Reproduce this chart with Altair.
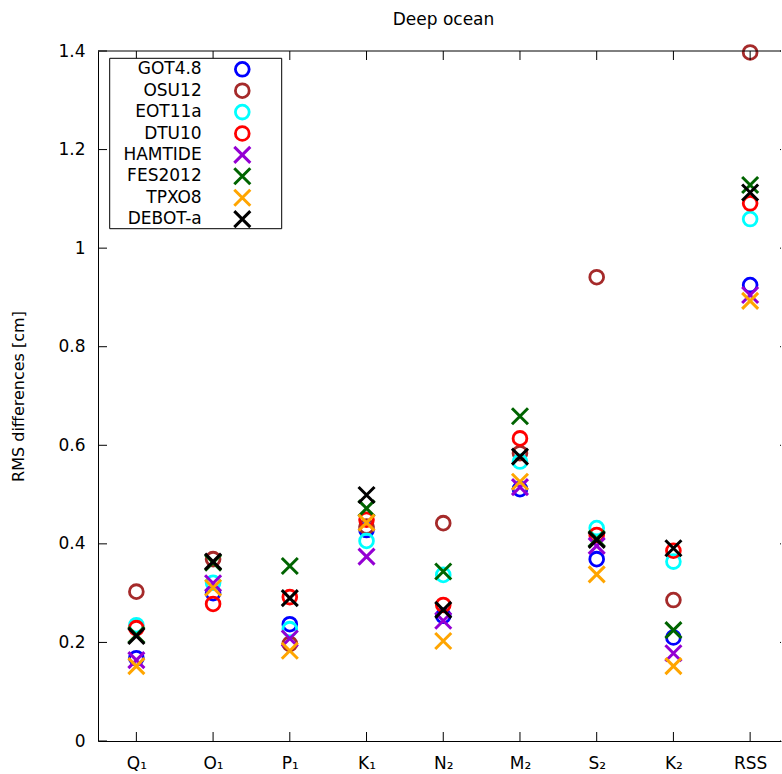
import altair as alt
import pandas as pd

# Tidal constituents along the x axis
tides = ["Q₁", "O₁", "P₁", "K₁", "N₂", "M₂", "S₂", "K₂", "RSS"]

# Ocean tide models and their plotting colours
models = ["GOT4.8", "OSU12", "EOT11a", "DTU10", "HAMTIDE", "FES2012", "TPXO8", "DEBOT-a"]
colors = ["#0000ff", "#a52a2a", "#00ffff", "#ff0000", "#9400d3", "#006400", "#ffa500", "#000000"]

# RMS differences [cm] per model, in the order of `tides`
got48 = [0.168, 0.300, 0.237, 0.428, 0.254, 0.511, 0.369, 0.210, 0.925]
osu12 = [0.303, 0.369, 0.197, 0.435, 0.442, 0.584, 0.941, 0.286, 1.397]
eot11a = [0.235, 0.321, 0.227, 0.406, 0.337, 0.567, 0.432, 0.364, 1.059]
dtu10 = [0.229, 0.278, 0.292, 0.449, 0.276, 0.614, 0.418, 0.386, 1.091]
hamtide = [0.164, 0.320, 0.208, 0.374, 0.244, 0.515, 0.396, 0.178, 0.905]
fes2012 = [0.215, 0.362, 0.355, 0.472, 0.344, 0.659, 0.410, 0.225, 1.128]
tpxo8 = [0.152, 0.311, 0.183, 0.443, 0.203, 0.526, 0.338, 0.152, 0.893]
debot_a = [0.213, 0.364, 0.290, 0.499, 0.266, 0.577, 0.408, 0.391, 1.113]

series = [got48, osu12, eot11a, dtu10, hamtide, fes2012, tpxo8, debot_a]
y_ticks = [0, 0.2, 0.4, 0.6, 0.8, 1.0, 1.2, 1.4]

rows = []
for m, vals in zip(models, series):
    for i, (t, v) in enumerate(zip(tides, vals)):
        rows.append({"model": m, "pos": i + 1, "tide": t, "rms": v})
df = pd.DataFrame(rows)

circle_models = models[:4]
cross_models = models[4:]

W, H = 683, 690
YMAX = 1.4
STEP = 690.5 / 9.0
XMAX = 0.5 + W / STEP
FONT = "DejaVu Sans"
XPATH = "M-1,-1L1,1M-1,1L1,-1"
CIRCLE_SIZE = 190
CROSS_SIZE = 256

xscale = alt.Scale(domain=[0.5, XMAX], nice=False, zero=False)
yscale = alt.Scale(domain=[0, YMAX], nice=False, zero=False)
cscale = alt.Scale(domain=models, range=colors)

label_expr = "[" + ",".join("'%s'" % t for t in tides) + "][datum.value - 1]"

x_axis = alt.Axis(values=list(range(1, 10)), labelExpr=label_expr, ticks=False,
                  grid=False, title=None, labelPadding=14)
y_axis = alt.Axis(values=y_ticks, format=".1~f", ticks=False, grid=False, labelPadding=13,
                  title="RMS differences [cm]", titlePadding=31)

base = alt.Chart(df)
circles = base.transform_filter(
    alt.FieldOneOfPredicate(field="model", oneOf=circle_models)
).mark_point(shape="circle", filled=False, size=CIRCLE_SIZE, strokeWidth=2.8, opacity=1).encode(
    x=alt.X("pos:Q", scale=xscale, axis=x_axis),
    y=alt.Y("rms:Q", scale=yscale, axis=y_axis),
    color=alt.Color("model:N", scale=cscale, legend=None),
)
crosses = base.transform_filter(
    alt.FieldOneOfPredicate(field="model", oneOf=cross_models)
).mark_point(shape=XPATH, filled=False, size=CROSS_SIZE, strokeWidth=3, opacity=1).encode(
    x=alt.X("pos:Q", scale=xscale),
    y=alt.Y("rms:Q", scale=yscale),
    color=alt.Color("model:N", scale=cscale, legend=None),
)

# Inward ticks on all four sides plus the top border
xt = alt.Chart(pd.DataFrame({"pos": list(range(1, 10))}))
yt = alt.Chart(pd.DataFrame({"v": y_ticks}))
bottom_ticks = xt.mark_rule(color="black", strokeWidth=1).encode(
    x=alt.X("pos:Q", scale=xscale), y=alt.value(H), y2=alt.value(H - 9))
top_ticks = xt.mark_rule(color="black", strokeWidth=1).encode(
    x=alt.X("pos:Q", scale=xscale), y=alt.value(0), y2=alt.value(9))
left_ticks = yt.mark_rule(color="black", strokeWidth=1).encode(
    y=alt.Y("v:Q", scale=yscale), x=alt.value(0), x2=alt.value(9))
right_ticks = yt.mark_rule(color="black", strokeWidth=1).encode(
    y=alt.Y("v:Q", scale=yscale), x=alt.value(W - 1), x2=alt.value(W))
top_border = alt.Chart(pd.DataFrame({"a": [0]})).mark_rule(color="black", strokeWidth=1).encode(
    x=alt.value(0), x2=alt.value(W), y=alt.value(0))

# Key box in the upper-left corner: labels right-aligned, symbols to their right.
# Row positions are given in pixels from the plot's top-left and mapped to data units.
leg_df = pd.DataFrame({"model": models, "row": list(range(len(models)))})
px_to_x = "0.5 + ({}) / %f" % STEP
py_to_y = "%f * (1 - ({}) / %f)" % (YMAX, H)
leg = alt.Chart(leg_df).transform_calculate(
    ly=py_to_y.format("18.3 + 21.4 * datum.row"),
    tx=px_to_x.format("103.7"),
    sx=px_to_x.format("144.3"),
)
leg_box = alt.Chart(pd.DataFrame({"a": [0]})).mark_rect(
    fill="white", stroke="black", strokeWidth=1).encode(
    x=alt.value(11.7), x2=alt.value(183.7), y=alt.value(7.3), y2=alt.value(177.7))
leg_text = leg.mark_text(align="right", baseline="middle", font=FONT, fontSize=17,
                         color="black").encode(
    x=alt.X("tx:Q", scale=xscale), y=alt.Y("ly:Q", scale=yscale), text="model:N")
leg_circles = leg.transform_filter(
    alt.FieldOneOfPredicate(field="model", oneOf=circle_models)
).mark_point(shape="circle", filled=False, size=CIRCLE_SIZE, strokeWidth=2.8, opacity=1).encode(
    x=alt.X("sx:Q", scale=xscale), y=alt.Y("ly:Q", scale=yscale),
    color=alt.Color("model:N", scale=cscale, legend=None))
leg_crosses = leg.transform_filter(
    alt.FieldOneOfPredicate(field="model", oneOf=cross_models)
).mark_point(shape=XPATH, filled=False, size=CROSS_SIZE, strokeWidth=3, opacity=1).encode(
    x=alt.X("sx:Q", scale=xscale), y=alt.Y("ly:Q", scale=yscale),
    color=alt.Color("model:N", scale=cscale, legend=None))

chart = alt.layer(
    circles, crosses, bottom_ticks, left_ticks, top_ticks, right_ticks, top_border,
    leg_box, leg_text, leg_circles, leg_crosses,
).properties(
    width=W, height=H,
    title=alt.TitleParams("Deep ocean", font=FONT, fontSize=17, fontWeight="normal",
                          color="black", anchor="middle", frame="group", offset=11, dx=4),
    padding={"left": 10, "top": 10, "right": 0, "bottom": 0},
).configure(
    font=FONT, background="white"
).configure_view(
    strokeWidth=0
).configure_axis(
    labelFont=FONT, labelFontSize=17, labelColor="black", labelFlush=False,
    labelOverlap=False, domainColor="black", domainWidth=1, tickSize=0,
    titleFont=FONT, titleFontSize=16, titleFontWeight="normal", titleColor="black",
)

chart.save("out.html", embed_options={"renderer": "svg", "actions": False})
